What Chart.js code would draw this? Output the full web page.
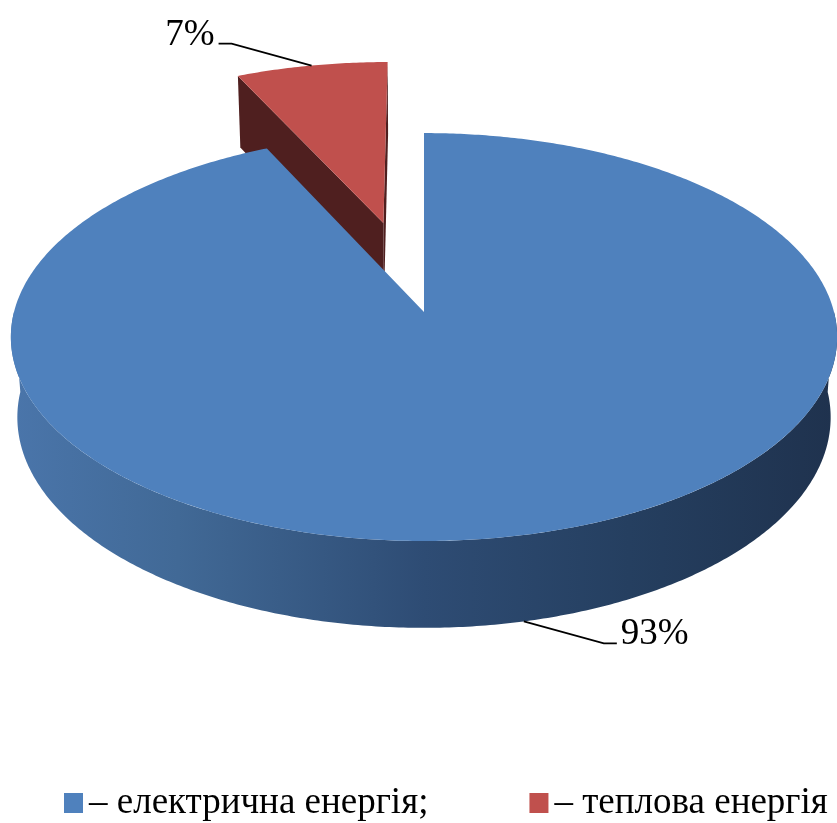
<!DOCTYPE html>
<html>
<head>
<meta charset="utf-8">
<script src="https://cdn.jsdelivr.net/npm/chart.js@4"></script>
<style>
    body { margin: 0; background: #fff; }
    #wrap { width: 837px; height: 823px; position: relative; }
</style>
</head>
<body>
<div id="wrap"><canvas id="energyPie"></canvas></div>
<script>
// Energy consumption structure
const categories = ['електрична енергія', 'теплова енергія'];
const shares = [93, 7];                                   // percent
const legendLabels = ['– електрична енергія;', '– теплова енергія'];
const sliceColors = ['#4f81bd', '#c0504d'];

const FONT = '37px "Liberation Serif", "Times New Roman", serif';

// projects a point on the unit pie (u, v in the disc plane, z up) to the screen
function makeProjector(cx, cy, scale, o) {
    const c = Math.sqrt(1 - o.tilt * o.tilt);
    return function(u, v, z) {
        const d = o.distance - v * c - z * o.tilt;
        const k = scale * o.distance / d;
        return [cx + u * k, cy + (v * o.tilt - z * c) * k];
    };
}

function pathPoints(ctx, pts) {
    ctx.beginPath();
    ctx.moveTo(pts[0][0], pts[0][1]);
    for (let i = 1; i < pts.length; i++) ctx.lineTo(pts[i][0], pts[i][1]);
    ctx.closePath();
}

function arcRange(a, b) {
    const n = Math.max(2, Math.ceil(Math.abs(b - a) / 0.01));
    const out = [];
    for (let i = 0; i <= n; i++) out.push(a + (b - a) * i / n);
    return out;
}

// slices of the pie drawn as a tilted solid with perspective
const pie3d = {
    id: 'pie3d',
    _slices(chart, opts) {
        const meta = chart.getDatasetMeta(0);
        return meta.data.map((arc, i) => {
            const p = arc.getProps(['x', 'y', 'startAngle', 'endAngle', 'outerRadius'], true);
            const mid = (p.startAngle + p.endAngle) / 2;
            const e = opts.explode[i] || 0;
            return {
                i: i, x: p.x, y: p.y, r: p.outerRadius,
                start: p.startAngle, end: p.endAngle, mid: mid,
                ou: e * Math.cos(mid), ov: e * Math.sin(mid)
            };
        });
    },
    beforeDatasetsDraw(chart, args, opts) {
        const ctx = chart.ctx;
        const slices = this._slices(chart, opts);
        if (!slices.length) return false;
        const s0 = slices[0];
        const scale = s0.r * opts.zoom;
        const P = makeProjector(s0.x, s0.y, scale, opts);
        const H = opts.depth;
        const c = Math.sqrt(1 - opts.tilt * opts.tilt);
        const cam = [0, opts.distance * c, opts.distance * opts.tilt];

        const wallFill = ctx.createLinearGradient(s0.x - scale, 0, s0.x + scale, 0);
        wallFill.addColorStop(0, '#4a75aa');
        wallFill.addColorStop(0.2, '#416996');
        wallFill.addColorStop(0.5, '#2e4c74');
        wallFill.addColorStop(0.75, '#253f60');
        wallFill.addColorStop(1, '#1f324e');

        // far slices first
        const order = slices.slice().sort((a, b) => Math.sin(a.mid) - Math.sin(b.mid));
        ctx.save();
        order.forEach(s => {
            const ds = chart.data.datasets[0];
            const top = ds.backgroundColor[s.i];
            const side = ds.sideColor[s.i];

            // radial cut faces
            [[s.start, -1], [s.end, 1]].forEach(([t, dir]) => {
                const nu = dir < 0 ? Math.sin(t) : -Math.sin(t);
                const nv = dir < 0 ? -Math.cos(t) : Math.cos(t);
                const pu = s.ou + 0.5 * Math.cos(t), pv = s.ov + 0.5 * Math.sin(t);
                const dot = nu * (cam[0] - pu) + nv * (cam[1] - pv);
                if (dot <= 0) return;
                pathPoints(ctx, [
                    P(s.ou, s.ov, 0),
                    P(s.ou + Math.cos(t), s.ov + Math.sin(t), 0),
                    P(s.ou + Math.cos(t), s.ov + Math.sin(t), -H),
                    P(s.ou, s.ov, -H)
                ]);
                ctx.fillStyle = side;
                ctx.fill();
            });

            // outer wall, front half only
            [0, 2 * Math.PI, -2 * Math.PI].forEach(shift => {
                const a = Math.max(s.start, shift), b = Math.min(s.end, shift + Math.PI);
                if (b <= a) return;
                const ts = arcRange(a, b);
                const pts = ts.map(t => P(s.ou + Math.cos(t), s.ov + Math.sin(t), 0))
                    .concat(ts.slice().reverse().map(t => P(s.ou + Math.cos(t), s.ov + Math.sin(t), -H)));
                pathPoints(ctx, pts);
                ctx.fillStyle = s.ou || s.ov ? side : wallFill;
                ctx.fill();
            });

            // top face
            const pts = [P(s.ou, s.ov, 0)].concat(
                arcRange(s.start, s.end).map(t => P(s.ou + Math.cos(t), s.ov + Math.sin(t), 0)));
            pathPoints(ctx, pts);
            ctx.fillStyle = top;
            ctx.fill();
        });
        ctx.restore();

        // percentage labels with leader lines
        ctx.save();
        ctx.font = FONT;
        ctx.fillStyle = '#000';
        ctx.strokeStyle = '#000';
        ctx.lineWidth = 1.75;
        ctx.textBaseline = 'alphabetic';
        slices.forEach(s => {
            const front = Math.sin(s.mid) > 0;
            const a = P(s.ou + Math.cos(s.mid), s.ov + Math.sin(s.mid), front ? -H : 0);
            const sx = Math.cos(s.mid) >= 0 ? 1 : -1;
            const sy = front ? 1 : -1;
            const elbow = [a[0] + sx * 80, a[1] + sy * 22];
            const end = [elbow[0] + sx * 13, elbow[1]];
            ctx.beginPath();
            ctx.moveTo(a[0], a[1]);
            ctx.lineTo(elbow[0], elbow[1]);
            ctx.lineTo(end[0], end[1]);
            ctx.stroke();
            ctx.textAlign = sx > 0 ? 'left' : 'right';
            ctx.fillText(shares[s.i] + '%', end[0] + sx * 4, elbow[1] + 1);
        });
        ctx.restore();
        return false;
    },
    afterDraw(chart, args, opts) {
        // legend under the pie
        const ctx = chart.ctx;
        ctx.save();
        ctx.font = FONT;
        ctx.textBaseline = 'alphabetic';
        ctx.textAlign = 'left';
        let x = opts.legendX;
        legendLabels.forEach((label, i) => {
            ctx.fillStyle = sliceColors[i];
            ctx.fillRect(x, opts.legendY - 20, 19, 20);
            ctx.fillStyle = '#000';
            ctx.fillText(label, x + 25, opts.legendY);
            x += 25 + ctx.measureText(label).width + opts.legendGap;
        });
        ctx.restore();
    }
};

new Chart(document.getElementById('energyPie'), {
    type: 'pie',
    data: {
        labels: categories,
        datasets: [{
            data: shares,
            backgroundColor: sliceColors,
            sideColor: ['#2e4c74', '#4f1f1f'],
            borderWidth: 0
        }]
    },
    options: {
        responsive: true,
        maintainAspectRatio: false,
        animation: false,
        layout: { padding: { left: 11, bottom: 199 } },
        plugins: {
            legend: { display: false },
            tooltip: { enabled: false },
            pie3d: {
                zoom: 410 / 312,
                tilt: 0.49,
                distance: 7.1,
                depth: 0.227,
                explode: [0, 0.48],
                legendX: 64,
                legendY: 813,
                legendGap: 101
            }
        }
    },
    plugins: [pie3d]
});
</script>
</body>
</html>
